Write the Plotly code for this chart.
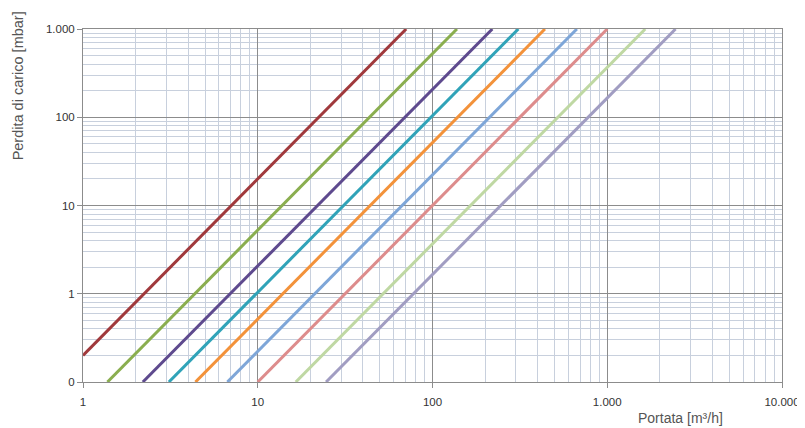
import plotly.graph_objects as go

# Series: start/end points (flow m3/h, pressure drop mbar)
series_names = ["S1", "S2", "S3", "S4", "S5", "S6", "S7", "S8", "S9"]
x_start = [1.0, 1.38, 2.2, 3.1, 4.4, 6.7, 10.0, 16.5, 24.6]
y_start = [0.2, 0.1, 0.1, 0.1, 0.1, 0.1, 0.1, 0.1, 0.1]
x_end = [70.7, 138.0, 220.0, 310.0, 440.0, 670.0, 1000.0, 1650.0, 2460.0]
y_end = [1000, 1000, 1000, 1000, 1000, 1000, 1000, 1000, 1000]
colors = ["#A0393C", "#8AAE4F", "#5E4A8E", "#30A3B8", "#F3923A",
          "#7EA6D8", "#DD8C8C", "#BFD8A3", "#A19DC2"]

x_tickvals = [1, 10, 100, 1000, 10000]
x_ticktext = ["1", "10", "100", "1.000", "10.000"]
y_tickvals = [0.1, 1, 10, 100, 1000]
y_ticktext = ["0", "1", "10", "100", "1.000"]

x_minor = [d * 10 ** e for e in range(0, 4) for d in range(2, 10)]
y_minor = [d * 10 ** e for e in range(-1, 3) for d in range(2, 10)]

fig = go.Figure()
for n, xs, ys, xe, ye, c in zip(series_names, x_start, y_start, x_end, y_end, colors):
    fig.add_trace(go.Scatter(x=[xs, xe], y=[ys, ye], mode="lines", name=n,
                             line=dict(color=c, width=3), showlegend=False))

axis_common = dict(
    showline=True, linecolor="#8C8C8C", linewidth=1, mirror=True,
    showgrid=True, gridcolor="#8C8C8C", gridwidth=1,
    ticks="outside", ticklen=5, tickcolor="#8C8C8C",
    zeroline=False, automargin=False,
    tickfont=dict(family="Liberation Sans, Arial", size=11.5, color="#333333"),
)

fig.update_xaxes(type="log", range=[0, 4], tickmode="array",
                 tickvals=x_tickvals, ticktext=x_ticktext, ticklabelstandoff=4,
                 minor=dict(tickmode="array", tickvals=x_minor, showgrid=True,
                            gridcolor="#C8D0DD", gridwidth=1, ticks=""),
                 **axis_common)
fig.update_yaxes(type="log", range=[-1, 3], tickmode="array",
                 tickvals=y_tickvals, ticktext=y_ticktext,
                 minor=dict(tickmode="array", tickvals=y_minor, showgrid=True,
                            gridcolor="#C8D0DD", gridwidth=1, ticks=""),
                 **axis_common)

fig.add_annotation(text="Perdita di carico [mbar]", xref="paper", yref="paper",
                   x=-0.093, y=1.057, xanchor="center", yanchor="top",
                   textangle=-90, showarrow=False,
                   font=dict(family="Liberation Sans, Arial", size=14.5, color="#555555"))
fig.add_annotation(text="Portata [m³/h]", xref="paper", yref="paper",
                   x=0.918, y=-0.075, xanchor="right", yanchor="top",
                   showarrow=False,
                   font=dict(family="Liberation Sans Narrow, Liberation Sans, Arial", size=14, color="#555555"))

# The page body has an 8px margin, so the figure is sized and offset to fit the window.
fig.update_layout(
    width=797, height=420,
    margin=dict(l=75, r=23, t=21, b=46),
    paper_bgcolor="white", plot_bgcolor="white",
)

fig.write_html("out.html")
